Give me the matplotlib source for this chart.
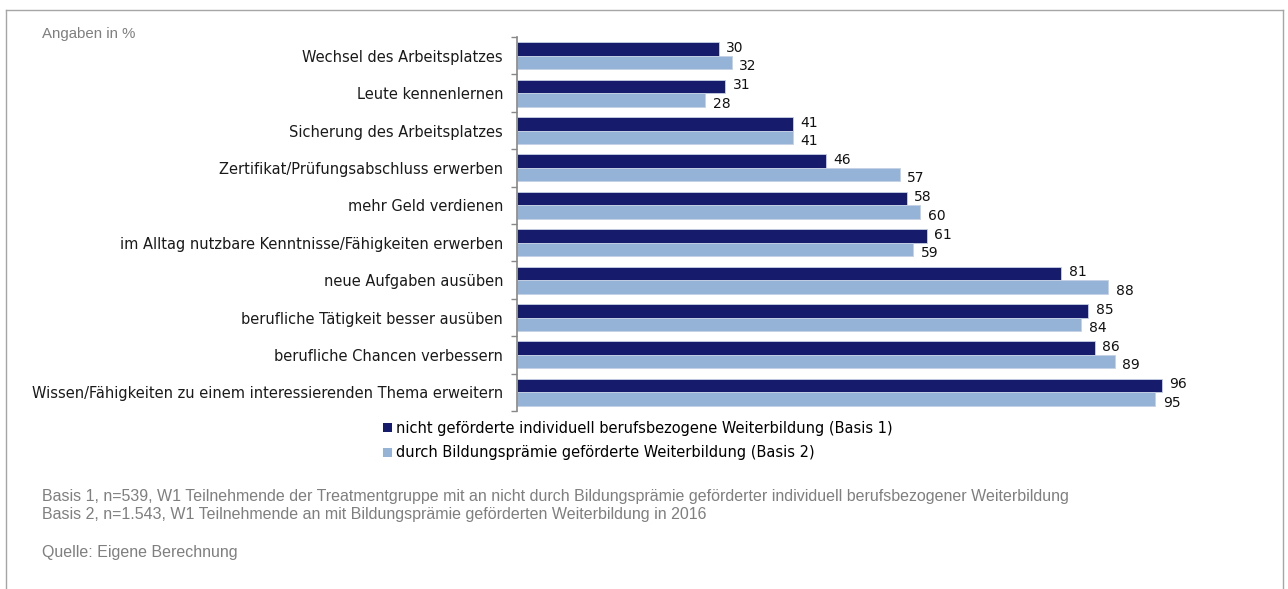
import numpy as np
import matplotlib.pyplot as plt
from matplotlib.patches import Patch
from matplotlib.lines import Line2D

# -------------------------
# Data
# -------------------------

categories = [
    "Wechsel des Arbeitsplatzes",
    "Leute kennenlernen",
    "Sicherung des Arbeitsplatzes",
    "Zertifikat/Prüfungsabschluss erwerben",
    "mehr Geld verdienen",
    "im Alltag nutzbare Kenntnisse/Fähigkeiten erwerben",
    "neue Aufgaben ausüben",
    "berufliche Tätigkeit besser ausüben",
    "berufliche Chancen verbessern",
    "Wissen/Fähigkeiten zu einem interessierenden Thema erweitern",
]

basis1 = [30, 31, 41, 46, 58, 61, 81, 85, 86, 96]
basis2 = [32, 28, 41, 57, 60, 59, 88, 84, 89, 95]

label1 = "nicht geförderte individuell berufsbezogene Weiterbildung (Basis 1)"
label2 = "durch Bildungsprämie geförderte Weiterbildung (Basis 2)"

notes = [
    "Basis 1, n=539, W1 Teilnehmende der Treatmentgruppe mit an nicht durch "
    "Bildungsprämie geförderter individuell berufsbezogener Weiterbildung",
    "Basis 2, n=1.543, W1 Teilnehmende an mit Bildungsprämie geförderten "
    "Weiterbildung in 2016",
]
source = "Quelle: Eigene Berechnung"

dark = "#161c6b"
light = "#95b3d7"
grey = "#7f7f7f"

# -------------------------
# Figure
# -------------------------

W, H = 1288, 589
fig = plt.figure(figsize=(W / 100, H / 100), dpi=100)

ax = fig.add_axes([517 / W, 1 - 411 / H, (1189 - 517) / W, (411 - 37) / H])

y = np.arange(len(categories))
h = 0.36

ax.barh(y - h / 2, basis1, height=h, color=dark,
        edgecolor="#c5d0e3", linewidth=0.6, label=label1)
ax.barh(y + h / 2, basis2, height=h, color=light,
        edgecolor="#c5d0e3", linewidth=0.6, label=label2)

for yi, v in zip(y, basis1):
    ax.text(v + 1.1, yi - h / 2 - 0.03, str(v), va="center", ha="left",
            fontsize=10, family="DejaVu Sans", color="#111111")
for yi, v in zip(y, basis2):
    ax.text(v + 1.1, yi + h / 2 + 0.1, str(v), va="center", ha="left",
            fontsize=10, family="DejaVu Sans", color="#111111")

ax.set_xlim(0, 100)
ax.set_ylim(len(categories) - 0.5, -0.5)

ax.set_yticks(y)
ax.set_yticklabels(categories, fontsize=10.5, family="DejaVu Sans",
                   color="#1a1a1a")
ax.tick_params(axis="y", which="major", length=0, pad=10)
ax.set_yticks(np.arange(len(categories) + 1) - 0.5, minor=True)
ax.tick_params(axis="y", which="minor", length=4, width=1, color="#888888")
ax.set_xticks([])

for side in ["top", "right", "bottom"]:
    ax.spines[side].set_visible(False)
ax.spines["left"].set_color("#888888")
ax.spines["left"].set_linewidth(1.2)

# -------------------------
# Legend
# -------------------------

handles = [Patch(facecolor=dark, edgecolor="none", label=label1),
           Patch(facecolor=light, edgecolor="none", label=label2)]
fig.legend(handles=handles, loc="upper left",
           bbox_to_anchor=(377 / W, 1 - 415 / H),
           frameon=False, prop={"family": "DejaVu Sans", "size": 10.5},
           handlelength=0.62, handleheight=0.62, handletextpad=0.25,
           labelspacing=0.66, borderaxespad=0)

# -------------------------
# Texts
# -------------------------

fig.text(42 / W, 1 - 34 / H, "Angaben in %", fontsize=10.8,
         family="Liberation Sans", color=grey, va="center", ha="left")

fig.text(42 / W, 1 - 496 / H, notes[0], fontsize=11.5,
         family="Liberation Sans", color=grey, va="center", ha="left")
fig.text(42 / W, 1 - 514 / H, notes[1], fontsize=11.5,
         family="Liberation Sans", color=grey, va="center", ha="left")
fig.text(42 / W, 1 - 552 / H, source, fontsize=11.5,
         family="Liberation Sans", color=grey, va="center", ha="left")

# -------------------------
# Frame
# -------------------------

frame = "#a6a6a6"
x0, x1, y0 = 5.5 / W, 1282.5 / W, 1 - 9.5 / H
fig.add_artist(Line2D([x0, x1], [y0, y0], color=frame, lw=1))
fig.add_artist(Line2D([x0, x0], [y0, -0.01], color=frame, lw=1))
fig.add_artist(Line2D([x1, x1], [y0, -0.01], color=frame, lw=1))

fig.savefig("out.png", dpi=100)
